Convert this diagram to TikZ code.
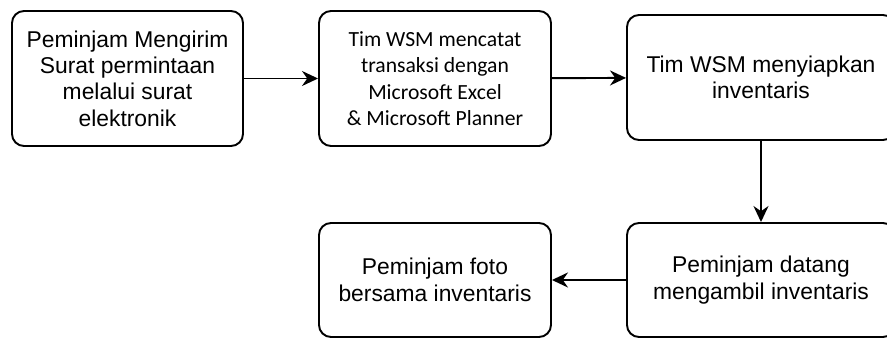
\documentclass[tikz,border=0pt]{standalone}
\usepackage{fontspec}
\setmainfont{Liberation Sans}
\newfontfamily\carlito{Carlito}
\usetikzlibrary{arrows.meta}

\begin{document}
\begin{tikzpicture}[
        block/.style = {draw, rounded corners=0.24cm, line width=1.1pt, align=center,
                        inner sep=0pt, font=\fontsize{13}{15}\selectfont},
        >={Stealth[length=0.32cm, width=0.3cm]}
        ]
        \useasboundingbox (0,0) rectangle (17.74,-6.76);

        \node (kirim) at (2.55,-1.57)  [block, minimum width=4.62cm, minimum height=2.70cm]
            {Peminjam Mengirim\\Surat permintaan\\melalui surat\\elektronik};
        \node (siap) at (15.22,-1.55)  [block, minimum width=5.36cm, minimum height=2.50cm]
            {Tim WSM menyiapkan\\inventaris};
        \node (ambil) at (15.22,-5.60) [block, minimum width=5.36cm, minimum height=2.28cm]
            {Peminjam datang\\mengambil inventaris};
        \node (foto) at (8.70,-5.60)   [block, minimum width=4.64cm, minimum height=2.28cm]
            {Peminjam foto\\bersama inventaris};
        \node (catat) at (8.70,-1.57)  [block, minimum width=4.64cm, minimum height=2.70cm,
                                        font=\carlito\fontsize{12.3}{15}\selectfont]
            {Tim WSM mencatat\\transaksi dengan\\Microsoft Excel\\\& Microsoft Planner};

        \draw[->, line width=1.1pt] (kirim) -- (catat);
        \draw[->, line width=1.1pt] (catat) -- (siap);
        \draw[->, line width=1.1pt] (siap) -- (ambil);
        \draw[->, line width=1.1pt] (ambil) -- (foto);
    \end{tikzpicture}
\end{document}
